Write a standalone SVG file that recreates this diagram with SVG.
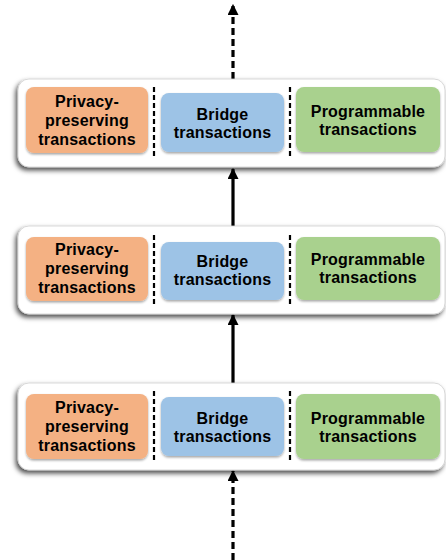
<svg xmlns="http://www.w3.org/2000/svg" width="446" height="560" viewBox="0 0 446 560">
  <defs>
    <filter id="layerShadow" x="-5%" y="-20%" width="110%" height="150%">
      <feDropShadow dx="-2" dy="3" stdDeviation="2.5" flood-color="#000" flood-opacity="0.7"/>
    </filter>
    <filter id="cellShadow" x="-5%" y="-10%" width="110%" height="130%">
      <feDropShadow dx="0" dy="1.5" stdDeviation="1" flood-color="#000" flood-opacity="0.35"/>
    </filter>
    <marker id="head" viewBox="0 0 10 10" refX="9" refY="5" markerWidth="11" markerHeight="11" markerUnits="userSpaceOnUse" orient="auto">
      <path d="M0,0 L10,5 L0,10 Z" fill="#000"/>
    </marker>
  </defs>
  <style>
    .layer { fill: #ffffff; stroke: #cfcfcf; stroke-width: 0.8; filter: url(#layerShadow); }
    .privacy { fill: #F4B183; filter: url(#cellShadow); }
    .bridge { fill: #9DC3E6; filter: url(#cellShadow); }
    .prog { fill: #A9D18E; filter: url(#cellShadow); }
    .divider { stroke: #000; stroke-width: 2.2; stroke-dasharray: 5 3; fill: none; }
    .label { font-family: "Liberation Sans", Arial, sans-serif; font-weight: bold; font-size: 16px; letter-spacing: 0.2px; fill: #000; text-anchor: middle; }
    .solid { stroke: #000; stroke-width: 3.2; fill: none; }
    .dashed { stroke: #000; stroke-width: 3.2; stroke-dasharray: 7 4; fill: none; }
  </style>

  <!-- arrows between layers -->
  <g id="connectors">
    <line class="dashed" x1="233" y1="79" x2="233" y2="5" marker-end="url(#head)"/>
    <line class="solid" x1="233" y1="226" x2="233" y2="169" marker-end="url(#head)"/>
    <line class="solid" x1="233" y1="383" x2="233" y2="315" marker-end="url(#head)"/>
    <line class="dashed" x1="233" y1="560" x2="233" y2="471" marker-end="url(#head)"/>
  </g>

  <!-- top layer -->
  <g id="layer1">
    <rect class="layer" x="18" y="79" width="427" height="88" rx="11"/>
    <g id="layer1-privacy">
      <rect class="privacy" x="26" y="87" width="122" height="66" rx="8"/>
      <text class="label" x="87" y="107">Privacy-</text>
      <text class="label" x="87" y="126">preserving</text>
      <text class="label" x="87" y="145">transactions</text>
    </g>
    <g id="layer1-bridge">
      <rect class="bridge" x="161" y="93" width="123" height="59" rx="8"/>
      <text class="label" x="222.5" y="120">Bridge</text>
      <text class="label" x="222.5" y="138">transactions</text>
    </g>
    <g id="layer1-prog">
      <rect class="prog" x="296" y="87" width="144" height="65" rx="8"/>
      <text class="label" x="368" y="117">Programmable</text>
      <text class="label" x="368" y="135">transactions</text>
    </g>
    <line class="divider" x1="154" y1="87" x2="154" y2="158"/>
    <line class="divider" x1="290" y1="87" x2="290" y2="158"/>
  </g>

  <!-- middle layer -->
  <g id="layer2">
    <rect class="layer" x="18" y="226" width="427" height="88" rx="11"/>
    <g id="layer2-privacy">
      <rect class="privacy" x="26" y="237" width="122" height="64" rx="8"/>
      <text class="label" x="87" y="255">Privacy-</text>
      <text class="label" x="87" y="274">preserving</text>
      <text class="label" x="87" y="293">transactions</text>
    </g>
    <g id="layer2-bridge">
      <rect class="bridge" x="161" y="242" width="123" height="58" rx="8"/>
      <text class="label" x="222.5" y="267">Bridge</text>
      <text class="label" x="222.5" y="285">transactions</text>
    </g>
    <g id="layer2-prog">
      <rect class="prog" x="296" y="237" width="144" height="63" rx="8"/>
      <text class="label" x="368" y="265">Programmable</text>
      <text class="label" x="368" y="283">transactions</text>
    </g>
    <line class="divider" x1="154" y1="235" x2="154" y2="305"/>
    <line class="divider" x1="290" y1="235" x2="290" y2="305"/>
  </g>

  <!-- bottom layer -->
  <g id="layer3">
    <rect class="layer" x="18" y="383" width="427" height="87" rx="11"/>
    <g id="layer3-privacy">
      <rect class="privacy" x="26" y="394" width="122" height="65" rx="8"/>
      <text class="label" x="87" y="413">Privacy-</text>
      <text class="label" x="87" y="432">preserving</text>
      <text class="label" x="87" y="451">transactions</text>
    </g>
    <g id="layer3-bridge">
      <rect class="bridge" x="161" y="397" width="123" height="59" rx="8"/>
      <text class="label" x="222.5" y="424">Bridge</text>
      <text class="label" x="222.5" y="442">transactions</text>
    </g>
    <g id="layer3-prog">
      <rect class="prog" x="296" y="394" width="144" height="65" rx="8"/>
      <text class="label" x="368" y="424">Programmable</text>
      <text class="label" x="368" y="442">transactions</text>
    </g>
    <line class="divider" x1="154" y1="391" x2="154" y2="461"/>
    <line class="divider" x1="290" y1="391" x2="290" y2="461"/>
  </g>
</svg>
